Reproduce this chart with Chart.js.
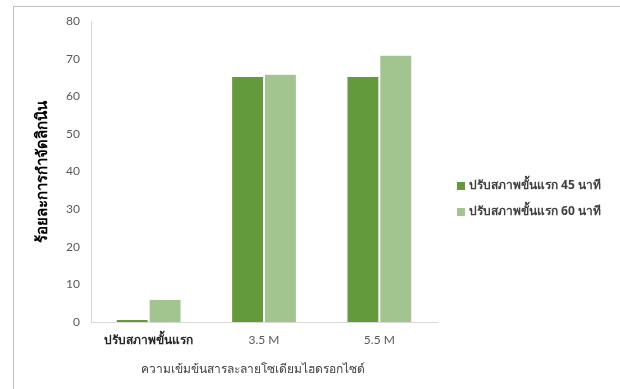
<!DOCTYPE html>
<html>
<head>
<meta charset="utf-8">
<script src="https://cdn.jsdelivr.net/npm/chart.js@4/dist/chart.umd.min.js"></script>
<style>
  html, body { margin: 0; padding: 0; background: #fff; }
  #wrap { position: relative; width: 620px; height: 389px; overflow: hidden; }
  #frame { position: absolute; left: 13px; top: 6px; width: 700px; height: 500px;
           border-top: 1px solid #bfbfbf; border-left: 1px solid #bfbfbf; }
  canvas { position: absolute; left: 0; top: 0; }
</style>
</head>
<body>
<div id="wrap">
  <div id="frame"></div>
  <canvas id="reportChart" width="620" height="389"></canvas>
</div>
<script>
// data
const categories = ['ปรับสภาพขั้นแรก', '3.5 M', '5.5 M'];
const seriesNames = ['ปรับสภาพขั้นแรก 45 นาที', 'ปรับสภาพขั้นแรก 60 นาที'];
const values45 = [0.8, 65.4, 65.4];
const values60 = [6.1, 66.0, 71.0];
const seriesColors = ['#629a3c', '#a2c58f'];
const xTitle = 'ความเข้มข้นสารละลายโซเดียมไฮดรอกไซด์';

const thaiFont = "'Noto Sans', 'DejaVu Sans', sans-serif";

// legend at the right of the plot and the x title (sits a little left of centre in the original)
const sideLegend = {
    id: 'sideLegend',
    afterDraw(chart) {
        const ctx = chart.ctx;
        ctx.save();
        ctx.font = 'bold 12px ' + thaiFont;
        ctx.textBaseline = 'middle';
        chart.data.datasets.forEach(function (ds, i) {
            const y = 186 + i * 26;
            ctx.fillStyle = ds.backgroundColor;
            ctx.fillRect(457, y - 4, 8, 8);
            ctx.fillStyle = '#404040';
            ctx.fillText(ds.label, 469, y);
        });

        ctx.font = '12px ' + thaiFont;
        ctx.textAlign = 'center';
        ctx.fillText(xTitle, 253, 370);
        ctx.restore();
    }
};

const barData = {
    labels: categories,
    datasets: [{
        label: seriesNames[0],
        data: values45,
        backgroundColor: seriesColors[0],
        borderColor: '#ffffff',
        borderWidth: 1
    }, {
        label: seriesNames[1],
        data: values60,
        backgroundColor: seriesColors[1],
        borderColor: '#ffffff',
        borderWidth: 1
    }]
};

const config = {
    type: 'bar',
    data: barData,
    options: {
        responsive: false,
        animation: false,
        layout: { padding: { top: 21, right: 183, left: 0, bottom: 0 } },
        datasets: { bar: { categoryPercentage: 0.57, barPercentage: 1 } },
        plugins: {
            legend: { display: false },
            tooltip: { enabled: false }
        },
        scales: {
            x: {
                grid: { display: false, drawTicks: false },
                border: { color: '#d9d9d9', width: 1 },
                ticks: {
                    color: function (c) { return c.index === 0 ? '#262626' : '#595959'; },
                    padding: 11,
                    font: function (c) {
                        return c.index === 0
                            ? { family: thaiFont, size: 12, weight: 'bold' }
                            : { family: 'Lato, sans-serif', size: 12 };
                    }
                },
                afterFit(scale) { scale.height = 67; }
            },
            y: {
                min: 0,
                max: 80,
                grid: { display: false, drawTicks: false },
                border: { color: '#d9d9d9', width: 1 },
                ticks: {
                    stepSize: 10,
                    color: '#595959',
                    padding: 11,
                    font: { family: 'Lato, sans-serif', size: 12 }
                },
                title: {
                    display: true,
                    text: 'ร้อยละการกำจัดลิกนิน',
                    color: '#000000',
                    font: { family: thaiFont, size: 15, weight: 'bold' },
                    padding: { top: 34, bottom: 0 }
                },
                afterFit(scale) { scale.width = 91; }
            }
        }
    },
    plugins: [sideLegend]
};

var reportChart = new Chart(
    document.getElementById('reportChart'),
    config
);
</script>
</body>
</html>
